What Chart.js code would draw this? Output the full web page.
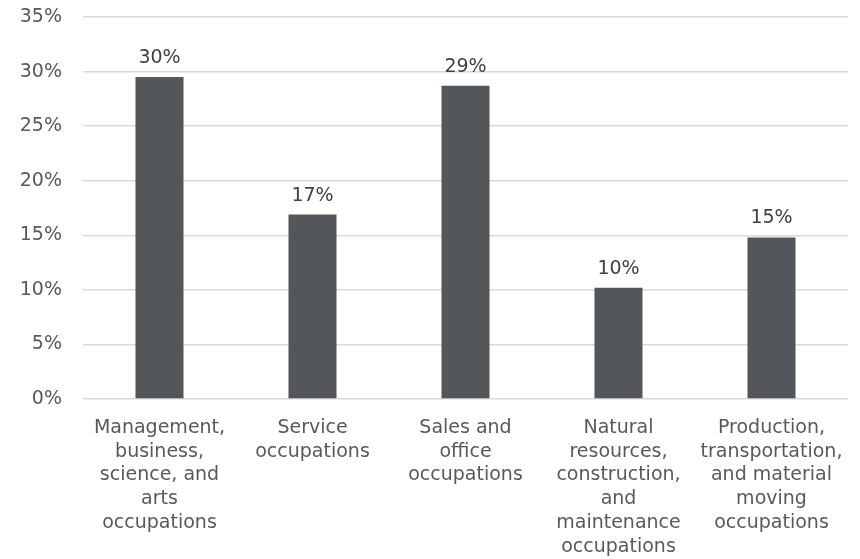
<!DOCTYPE html>
<html>
<head>
<meta charset="utf-8">
<script src="https://cdn.jsdelivr.net/npm/chart.js@4.4.0/dist/chart.umd.min.js"></script>
<style>
  html, body { margin: 0; padding: 0; background: #fff; }
  #wrap { width: 860px; height: 559px; }
</style>
</head>
<body>
<div id="wrap"><canvas id="chart"></canvas></div>
<script>
const categories = [
    ['Management,', 'business,', 'science, and', 'arts', 'occupations'],
    ['Service', 'occupations'],
    ['Sales and', 'office', 'occupations'],
    ['Natural', 'resources,', 'construction,', 'and', 'maintenance', 'occupations'],
    ['Production,', 'transportation,', 'and material', 'moving', 'occupations']
];
const shares = [29.5, 16.9, 28.7, 10.2, 14.8];
const yTicks = [0, 5, 10, 15, 20, 25, 30, 35];

const FONT = 'Verdana, "DejaVu Sans", sans-serif';

// draws the rounded percentage above each bar
const barLabels = {
    id: 'barLabels',
    afterDatasetsDraw(chart) {
        const ctx = chart.ctx;
        const meta = chart.getDatasetMeta(0);
        ctx.save();
        ctx.font = '19px ' + FONT;
        ctx.fillStyle = '#404040';
        ctx.textAlign = 'center';
        ctx.textBaseline = 'alphabetic';
        meta.data.forEach((bar, i) => {
            ctx.fillText(Math.round(shares[i]) + '%', bar.x, bar.y - 14);
        });
        ctx.restore();
    }
};

new Chart(document.getElementById('chart').getContext('2d'), {
    type: 'bar',
    data: {
        labels: categories,
        datasets: [{
            data: shares,
            backgroundColor: '#54575A',
            borderWidth: 0,
            barPercentage: 0.314,
            categoryPercentage: 1
        }]
    },
    options: {
        responsive: true,
        maintainAspectRatio: false,
        animation: false,
        layout: { padding: { top: 17, right: 12, left: 0, bottom: 0 } },
        plugins: {
            legend: { display: false },
            tooltip: { enabled: false }
        },
        scales: {
            x: {
                grid: { display: false },
                border: { display: false },
                ticks: {
                    color: '#595959',
                    font: { family: FONT, size: 19, lineHeight: 1.25 },
                    padding: 9,
                    maxRotation: 0,
                    autoSkip: false
                },
                afterFit(scale) { scale.height = 160; }
            },
            y: {
                min: 0,
                max: 35,
                afterBuildTicks(scale) {
                    scale.ticks = yTicks.map(v => ({ value: v }));
                },
                grid: { color: '#D9D9D9', lineWidth: 1.5, drawTicks: false },
                border: { display: false },
                ticks: {
                    color: '#595959',
                    font: { family: FONT, size: 19 },
                    padding: 21,
                    callback: v => v + '%'
                },
                afterFit(scale) {
                    scale.width = 83;
                    scale.paddingTop = 0;
                    scale.paddingBottom = 0;
                }
            }
        }
    },
    plugins: [barLabels]
});
</script>
</body>
</html>
